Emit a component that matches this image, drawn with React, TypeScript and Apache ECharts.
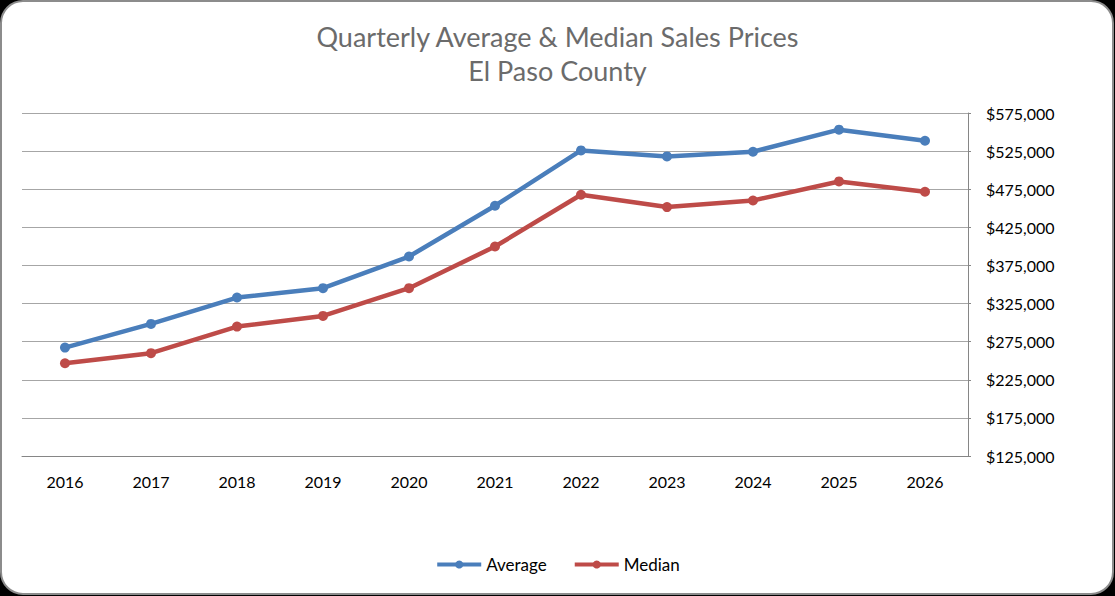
import React, { useEffect, useRef } from "react";
import * as echarts from "echarts";

const years = ["2016", "2017", "2018", "2019", "2020", "2021", "2022", "2023", "2024", "2025", "2026"];
const averagePrices = [267200, 298300, 332900, 345200, 386700, 453300, 525900, 518000, 524200, 553100, 538600];
const medianPrices = [246700, 259900, 294800, 308800, 345200, 399800, 467700, 451600, 460200, 485200, 471700];
const titleLines = ["Quarterly Average & Median Sales Prices", "El Paso County"];
const seriesNames = ["Average", "Median"];

const FONT = "Lato, 'Noto Sans', sans-serif";

export default function App() {
  const ref = useRef<HTMLDivElement>(null);
  useEffect(() => {
    document.body.style.margin = "0";
    const chart = echarts.init(ref.current!, undefined, { renderer: "svg" });
    chart.setOption({
      animation: false,
      backgroundColor: "#000000",
      textStyle: { fontFamily: FONT },
      graphic: [
        {
          type: "rect",
          z: -10,
          shape: { x: 1, y: 1, width: 1112, height: 593, r: 22 },
          style: { fill: "#ffffff", stroke: "#8c8c8c", lineWidth: 2 },
        },
      ],
      title: {
        text: titleLines.join("\n"),
        left: "center",
        top: 14,
        textStyle: {
          fontFamily: FONT,
          fontSize: 27,
          fontWeight: "normal",
          color: "#6b6b6b",
          lineHeight: 34,
        },
      },
      legend: {
        bottom: 18,
        left: "center",
        itemWidth: 44,
        itemHeight: 10,
        itemGap: 26,
        textStyle: { fontFamily: FONT, fontSize: 17, color: "#000" },
        lineStyle: { width: 4 },
        data: seriesNames,
      },
      grid: { left: 22, right: 147, top: 113, bottom: 140, containLabel: false },
      xAxis: {
        type: "category",
        data: years,
        boundaryGap: true,
        axisLine: { lineStyle: { color: "#868686", width: 1 } },
        axisTick: { show: false },
        axisLabel: { color: "#000", fontSize: 16, margin: 17, fontFamily: FONT },
      },
      yAxis: {
        type: "value",
        position: "right",
        min: 125000,
        max: 575000,
        interval: 50000,
        axisLine: { show: true, lineStyle: { color: "#868686", width: 1 } },
        axisTick: { show: true, length: 3, lineStyle: { color: "#868686" } },
        splitLine: { lineStyle: { color: "#a6a6a6", width: 1 } },
        axisLabel: {
          color: "#000",
          fontSize: 16,
          margin: 18,
          fontFamily: FONT,
          formatter: (v: number) => "$" + v.toLocaleString("en-US"),
        },
      },
      series: [
        {
          name: seriesNames[0],
          type: "line",
          data: averagePrices,
          symbol: "circle",
          symbolSize: 10,
          lineStyle: { width: 4.5, color: "#4a7ebb" },
          itemStyle: { color: "#4a7ebb" },
        },
        {
          name: seriesNames[1],
          type: "line",
          data: medianPrices,
          symbol: "circle",
          symbolSize: 10,
          lineStyle: { width: 4.5, color: "#be4b48" },
          itemStyle: { color: "#be4b48" },
        },
      ],
    });
    return () => chart.dispose();
  }, []);
  return <div ref={ref} style={{ width: 1115, height: 596 }} />;
}
